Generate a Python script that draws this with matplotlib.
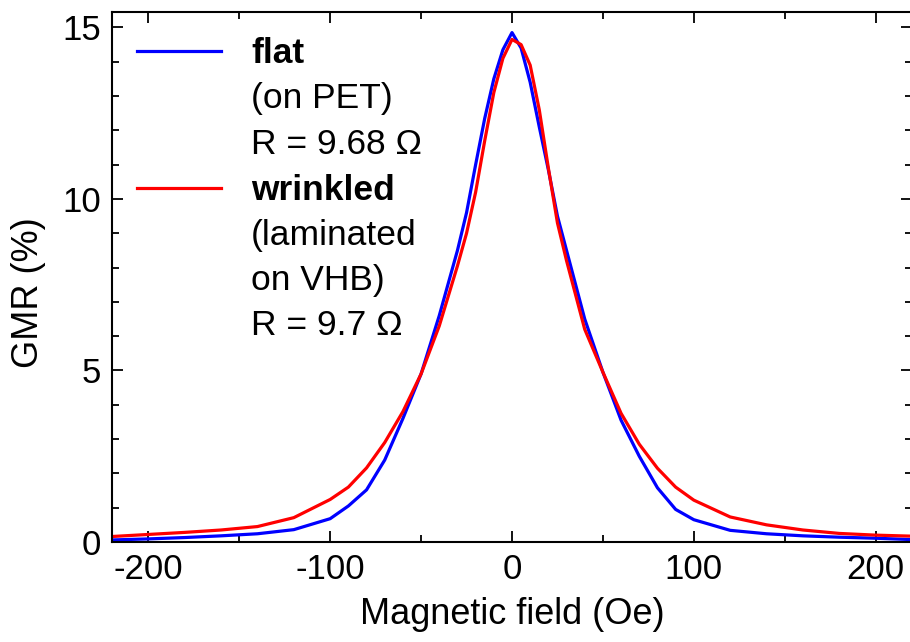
import matplotlib
matplotlib.use("Agg")
import matplotlib.pyplot as plt
from matplotlib.ticker import MultipleLocator

plt.rcParams['font.family'] = ['Liberation Sans', 'DejaVu Sans']
plt.rcParams['axes.unicode_minus'] = False

# magnetic field (Oe)
field = [-220, -200, -180, -160, -140, -120, -100, -90, -80, -70, -60, -50,
         -40, -30, -25, -20, -15, -10, -5, 0, 5, 10, 15, 20, 25, 30, 40,
         50, 60, 70, 80, 90, 100, 120, 140, 160, 180, 200, 220]

# GMR (%) flat film on PET
gmr_flat = [0.06, 0.09, 0.13, 0.18, 0.24, 0.36, 0.68, 1.05, 1.52, 2.39, 3.6, 4.9,
            6.6, 8.5, 9.6, 11.0, 12.35, 13.5, 14.35, 14.85, 14.4, 13.4, 12.1, 10.85,
            9.5, 8.5, 6.5, 4.95, 3.55, 2.5, 1.58, 0.95, 0.65, 0.34, 0.24, 0.18,
            0.14, 0.11, 0.07]

# GMR (%) wrinkled film laminated on VHB
gmr_wrinkled = [0.16, 0.22, 0.28, 0.35, 0.45, 0.71, 1.24, 1.6, 2.16, 2.9, 3.8, 4.9,
                6.3, 8.05, 9.0, 10.2, 11.7, 13.1, 14.1, 14.65, 14.5, 13.9, 12.6, 10.9,
                9.3, 8.2, 6.2, 4.95, 3.75, 2.85, 2.15, 1.6, 1.22, 0.73, 0.5, 0.35,
                0.25, 0.2, 0.17]

fig = plt.figure(figsize=(9.1, 6.42), dpi=100)
ax = fig.add_axes([112 / 910, 100 / 642, 800 / 910, 530 / 642])

ax.plot(field, gmr_flat, color='#0000ff', lw=2.3)
ax.plot(field, gmr_wrinkled, color='#ff0000', lw=2.3)

ax.set_xlim(-220, 220)
ax.set_ylim(0, 15.45)
ax.xaxis.set_major_locator(MultipleLocator(100))
ax.xaxis.set_minor_locator(MultipleLocator(50))
ax.yaxis.set_major_locator(MultipleLocator(5))
ax.yaxis.set_minor_locator(MultipleLocator(1))
ax.tick_params(which='both', direction='in', top=True, right=True,
               labelsize=25, width=1.3)
ax.tick_params(which='major', length=8, pad=8)
ax.tick_params(which='minor', length=5)
for s in ax.spines.values():
    s.set_linewidth(1.5)

ax.set_xlabel('Magnetic field (Oe)', fontsize=26, labelpad=8)
ax.set_ylabel('GMR (%)', fontsize=26)
ax.yaxis.set_label_coords(-0.082, 0.47)

# legend drawn by hand (multi-line labels with bold first line)
ax.plot([0.031, 0.136], [0.927, 0.927], transform=ax.transAxes,
        color='#0000ff', lw=2.3)
ax.plot([0.031, 0.136], [0.668, 0.668], transform=ax.transAxes,
        color='#ff0000', lw=2.3)
lines = [('flat', 'bold', 0.904), ('(on PET)', 'normal', 0.819),
         ('R = 9.68 Ω', 'normal', 0.732), ('wrinkled', 'bold', 0.645),
         ('(laminated', 'normal', 0.561), ('on VHB)', 'normal', 0.476),
         ('R = 9.7 Ω', 'normal', 0.391)]
for txt, wt, yy in lines:
    ax.text(0.174, yy, txt, transform=ax.transAxes, fontsize=25.5,
            fontweight=wt, va='baseline', ha='left')

fig.savefig('out.png', dpi=100)
